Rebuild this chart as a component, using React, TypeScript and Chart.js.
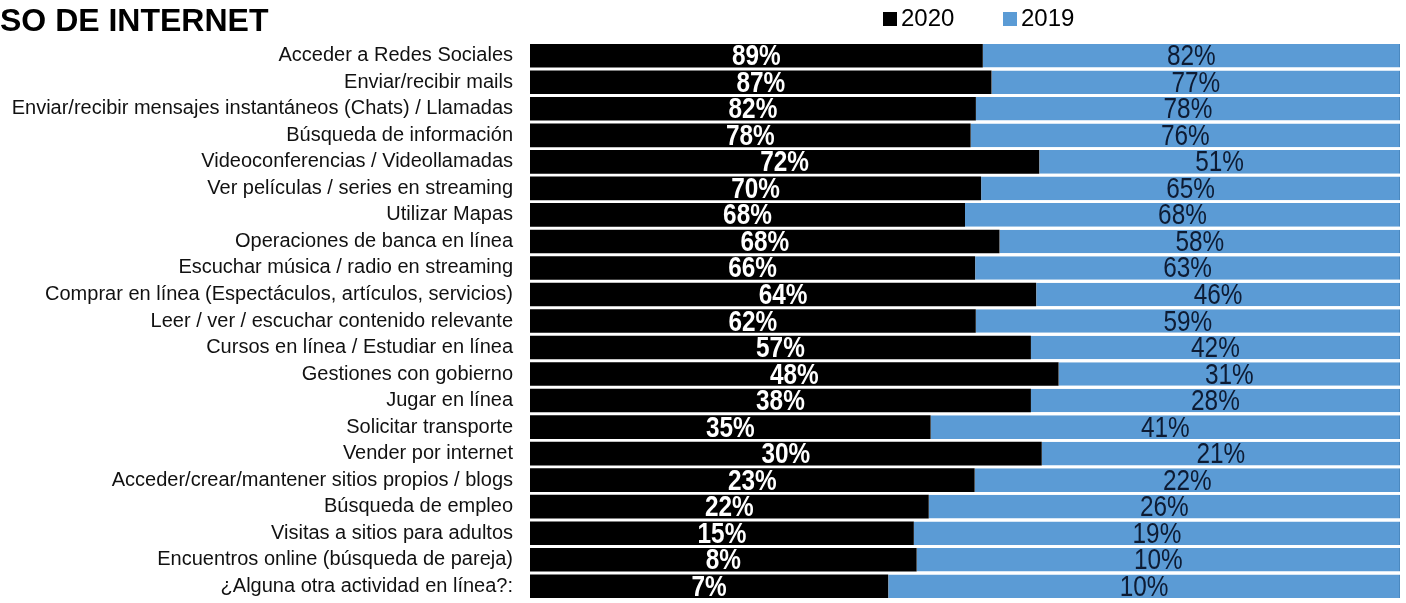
import React, { useEffect, useRef } from "react";
import { Chart, registerables } from "chart.js";

Chart.register(...registerables);

const categories = [
  "Acceder a Redes Sociales",
  "Enviar/recibir mails",
  "Enviar/recibir mensajes instantáneos (Chats) / Llamadas",
  "Búsqueda de información",
  "Videoconferencias / Videollamadas",
  "Ver películas / series en streaming",
  "Utilizar Mapas",
  "Operaciones de banca en línea",
  "Escuchar música / radio en streaming",
  "Comprar en línea (Espectáculos, artículos, servicios)",
  "Leer / ver / escuchar contenido relevante",
  "Cursos en línea / Estudiar en línea",
  "Gestiones con gobierno",
  "Jugar en línea",
  "Solicitar transporte",
  "Vender por internet",
  "Acceder/crear/mantener sitios propios / blogs",
  "Búsqueda de empleo",
  "Visitas a sitios para adultos",
  "Encuentros online (búsqueda de pareja)",
  "¿Alguna otra actividad en línea?:",
];

const values2020 = [89, 87, 82, 78, 72, 70, 68, 68, 66, 64, 62, 57, 48, 38, 35, 30, 23, 22, 15, 8, 7];
const values2019 = [82, 77, 78, 76, 51, 65, 68, 58, 63, 46, 59, 42, 31, 28, 41, 21, 22, 26, 19, 10, 10];

const seriesNames = ["2020", "2019"];
const titleText = "SO DE INTERNET";

const COLOR_2020 = "#000000";
const COLOR_2019 = "#5B9BD5";
const SANS = "'Liberation Sans', Arial, sans-serif";

export default function App() {
  const canvasRef = useRef<HTMLCanvasElement | null>(null);

  useEffect(() => {
    document.body.style.margin = "0";
    const canvas = canvasRef.current;
    if (!canvas) return;

    const raw = [values2020, values2019];
    const share2020 = values2020.map((v, i) => (v / (v + values2019[i])) * 100);
    const share2019 = values2019.map((v, i) => (v / (v + values2020[i])) * 100);

    const overlayPlugin = {
      id: "overlay",
      afterDatasetsDraw(chart: any) {
        const ctx = chart.ctx;
        chart.data.datasets.forEach((ds: any, di: number) => {
          const meta = chart.getDatasetMeta(di);
          meta.data.forEach((el: any, i: number) => {
            const p = el.getProps(["x", "base", "y"], true);
            const cx = (p.x + p.base) / 2;
            ctx.save();
            ctx.translate(cx, p.y + 1.5);
            ctx.scale(0.84, 1);
            ctx.textAlign = "center";
            ctx.textBaseline = "middle";
            if (di === 0) {
              ctx.fillStyle = "#ffffff";
              ctx.font = `bold 29px ${SANS}`;
            } else {
              ctx.fillStyle = "#0d1b33";
              ctx.font = `29px ${SANS}`;
            }
            ctx.fillText(`${raw[di][i]}%`, 0, 0);
            ctx.restore();
          });
        });
      },
      afterDraw(chart: any) {
        const ctx = chart.ctx;
        ctx.save();
        ctx.fillStyle = "#000";
        ctx.font = `bold 32px ${SANS}`;
        ctx.textAlign = "left";
        ctx.textBaseline = "alphabetic";
        ctx.fillText(titleText, 0, 31);
        const items = [
          { x: 883, color: COLOR_2020, text: seriesNames[0] },
          { x: 1003, color: COLOR_2019, text: seriesNames[1] },
        ];
        ctx.font = `24px ${SANS}`;
        ctx.textBaseline = "middle";
        items.forEach((it) => {
          ctx.fillStyle = it.color;
          ctx.fillRect(it.x, 12, 14, 14);
          ctx.fillStyle = "#000";
          ctx.fillText(it.text, it.x + 18, 19);
        });
        ctx.restore();
      },
    };

    const chart = new Chart(canvas, {
      type: "bar",
      data: {
        labels: categories,
        datasets: [
          {
            label: seriesNames[0],
            data: share2020,
            backgroundColor: COLOR_2020,
            barPercentage: 0.89,
            categoryPercentage: 1,
          },
          {
            label: seriesNames[1],
            data: share2019,
            backgroundColor: COLOR_2019,
            borderColor: "#4a88bf",
            borderWidth: { right: 1, top: 0, bottom: 0, left: 0 } as any,
            barPercentage: 0.89,
            categoryPercentage: 1,
          },
        ],
      },
      options: {
        indexAxis: "y",
        responsive: false,
        maintainAspectRatio: false,
        animation: false,
        devicePixelRatio: 1,
        layout: { padding: { top: 42.5, bottom: 3.5, left: 0, right: 6 } },
        plugins: {
          legend: { display: false },
          title: { display: false },
          tooltip: { enabled: false },
        },
        scales: {
          x: {
            stacked: true,
            min: 0,
            max: 100,
            display: false,
          },
          y: {
            stacked: true,
            grid: { display: false },
            border: { display: false },
            ticks: {
              color: "#111",
              font: { size: 20, family: SANS },
              padding: 9,
              autoSkip: false,
            },
            afterFit(scale: any) {
              scale.width = 530;
              scale.paddingTop = 0;
              scale.paddingBottom = 0;
            },
          },
        },
      },
      plugins: [overlayPlugin],
    });

    return () => chart.destroy();
  }, []);

  return (
    <div style={{ position: "fixed", left: 0, top: 0, width: 1406, height: 603, background: "#fff" }}>
      <canvas ref={canvasRef} width={1406} height={603} style={{ width: 1406, height: 603, display: "block" }} />
    </div>
  );
}
